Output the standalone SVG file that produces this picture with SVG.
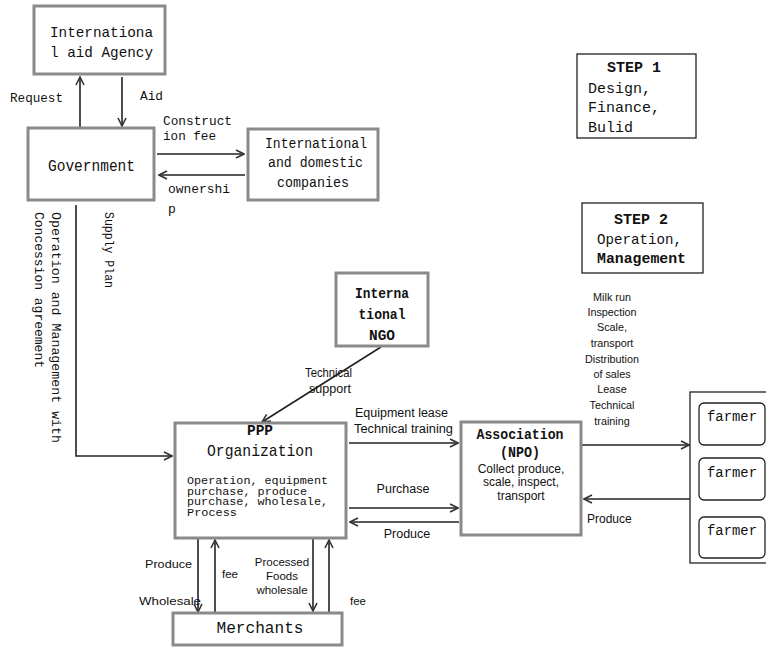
<svg xmlns="http://www.w3.org/2000/svg" width="766" height="649" viewBox="0 0 766 649">
<style>
.box{fill:#fff;stroke:#8a8a8a;stroke-width:3}
.thin{fill:#fff;stroke:#222;stroke-width:1.3}
.m{font-family:"Liberation Mono","DejaVu Sans Mono",monospace;fill:#111}
.s{font-family:"Liberation Sans",Arial,sans-serif;fill:#111}
.c{stroke:#222;stroke-width:1.6;fill:none}
.mid{text-anchor:middle}
</style>
<defs>
<marker id="ah" viewBox="0 0 10 10" refX="9" refY="5" markerWidth="10" markerHeight="10" markerUnits="userSpaceOnUse" orient="auto">
<path d="M1,1 L9,5 L1,9" fill="none" stroke="#333" stroke-width="1.6"/>
</marker>
</defs>
<rect width="766" height="649" fill="#fff"/>

<g id="connectors">
<line class="c" x1="80" y1="127" x2="80" y2="77" marker-end="url(#ah)"/>
<line class="c" x1="122" y1="77" x2="122" y2="126" marker-end="url(#ah)"/>
<line class="c" x1="157" y1="154" x2="244" y2="154" marker-end="url(#ah)"/>
<line class="c" x1="245" y1="175" x2="159" y2="175" marker-end="url(#ah)"/>
<polyline class="c" points="76,205 76,456 172,456" marker-end="url(#ah)"/>
<line class="c" x1="381" y1="347" x2="262" y2="422" marker-end="url(#ah)"/>
<line class="c" x1="349" y1="443" x2="458" y2="443" marker-end="url(#ah)"/>
<line class="c" x1="349" y1="508" x2="458" y2="508" marker-end="url(#ah)"/>
<line class="c" x1="459" y1="522" x2="350" y2="522" marker-end="url(#ah)"/>
<line class="c" x1="582" y1="445" x2="689" y2="445" marker-end="url(#ah)"/>
<line class="c" x1="690" y1="499" x2="584" y2="499" marker-end="url(#ah)"/>
<line class="c" x1="198" y1="539" x2="198" y2="612" marker-end="url(#ah)"/>
<line class="c" x1="215" y1="613" x2="215" y2="540" marker-end="url(#ah)"/>
<line class="c" x1="313" y1="539" x2="313" y2="611" marker-end="url(#ah)"/>
<line class="c" x1="329" y1="613" x2="329" y2="540" marker-end="url(#ah)"/>

<text class="m" x="10" y="102" font-size="13" textLength="53" lengthAdjust="spacingAndGlyphs">Request</text>
<text class="m" x="140" y="100" font-size="13" textLength="23" lengthAdjust="spacingAndGlyphs">Aid</text>
<text class="m" x="163" y="125" font-size="13" textLength="69" lengthAdjust="spacingAndGlyphs">Construct</text>
<text class="m" x="163" y="140" font-size="13" textLength="53" lengthAdjust="spacingAndGlyphs">ion fee</text>
<text class="m" x="168" y="193" font-size="13" textLength="62" lengthAdjust="spacingAndGlyphs">ownershi</text>
<text class="m" x="168" y="213" font-size="13">p</text>
<text class="m" font-size="13" transform="translate(52,212) rotate(90)" textLength="231" lengthAdjust="spacingAndGlyphs">Operation and Management with</text>
<text class="m" font-size="13" transform="translate(35,212) rotate(90)" textLength="156" lengthAdjust="spacingAndGlyphs">Concession agreement</text>
<text class="m" font-size="13" transform="translate(105,212) rotate(90)" textLength="76" lengthAdjust="spacingAndGlyphs">Supply Plan</text>
<text class="s" x="305" y="377" font-size="12.5" textLength="47" lengthAdjust="spacingAndGlyphs">Technical</text>
<text class="s" x="309" y="393" font-size="12.5" textLength="42" lengthAdjust="spacingAndGlyphs">support</text>
<text class="s" x="355" y="417" font-size="12" textLength="93" lengthAdjust="spacingAndGlyphs">Equipment lease</text>
<text class="s" x="354" y="433" font-size="12" textLength="99" lengthAdjust="spacingAndGlyphs">Technical training</text>
<text class="s mid" x="403" y="493" font-size="12.5">Purchase</text>
<text class="s mid" x="407" y="538" font-size="12.5">Produce</text>
<g class="s mid" font-size="10.8">
<text x="612" y="301">Milk run</text>
<text x="612" y="316">Inspection</text>
<text x="612" y="331">Scale,</text>
<text x="612" y="347">transport</text>
<text x="612" y="363">Distribution</text>
<text x="612" y="378">of sales</text>
<text x="612" y="393">Lease</text>
<text x="612" y="409">Technical</text>
<text x="612" y="425">training</text>
</g>
<text class="s" x="587" y="523" font-size="12">Produce</text>
<text class="s" x="145" y="568" font-size="11.5" textLength="47" lengthAdjust="spacingAndGlyphs">Produce</text>
<text class="s" x="139" y="605" font-size="11.5" textLength="62" lengthAdjust="spacingAndGlyphs">Wholesale</text>
<text class="s" x="222" y="578" font-size="11.5">fee</text>
<text class="s mid" x="282" y="566" font-size="11.5">Processed</text>
<text class="s mid" x="282" y="580" font-size="11.5">Foods</text>
<text class="s mid" x="282" y="594" font-size="11.5">wholesale</text>
<text class="s" x="350" y="605" font-size="11.5">fee</text>
</g>

<g id="aid-agency">
<rect class="box" x="34" y="6" width="131" height="68"/>
<text class="m" x="50" y="37" font-size="15" textLength="103" lengthAdjust="spacingAndGlyphs">Internationa</text>
<text class="m" x="50" y="57" font-size="15" textLength="103" lengthAdjust="spacingAndGlyphs">l aid Agency</text>
</g>

<g id="government">
<rect class="box" x="28" y="128" width="126" height="72"/>
<text class="m" x="48" y="171" font-size="16" textLength="87" lengthAdjust="spacingAndGlyphs">Government</text>
</g>

<g id="companies">
<rect class="box" x="248" y="129" width="130" height="71"/>
<text class="m" x="265" y="148" font-size="14" textLength="102" lengthAdjust="spacingAndGlyphs">International</text>
<text class="m" x="268" y="167" font-size="14" textLength="95" lengthAdjust="spacingAndGlyphs">and domestic</text>
<text class="m" x="277" y="187" font-size="14" textLength="72" lengthAdjust="spacingAndGlyphs">companies</text>
</g>

<g id="step1">
<rect class="thin" x="577" y="54" width="119" height="84"/>
<text class="m mid" x="634" y="72" font-size="15" font-weight="bold">STEP 1</text>
<text class="m" x="588" y="93" font-size="15">Design,</text>
<text class="m" x="588" y="112" font-size="15">Finance,</text>
<text class="m" x="588" y="132" font-size="15">Bulid</text>
</g>

<g id="step2">
<rect class="thin" x="582" y="203" width="121" height="70"/>
<text class="m mid" x="641" y="224" font-size="15" font-weight="bold">STEP 2</text>
<text class="m" x="597" y="244" font-size="15" textLength="85" lengthAdjust="spacingAndGlyphs">Operation,</text>
<text class="m" x="597" y="263" font-size="15" font-weight="bold" textLength="89" lengthAdjust="spacingAndGlyphs">Management</text>
</g>

<g id="ngo">
<rect class="box" x="336" y="273" width="92" height="73"/>
<text class="m mid" x="382" y="298" font-size="15" font-weight="bold" textLength="54" lengthAdjust="spacingAndGlyphs">Interna</text>
<text class="m mid" x="382" y="319" font-size="15" font-weight="bold" textLength="47" lengthAdjust="spacingAndGlyphs">tional</text>
<text class="m mid" x="382" y="340" font-size="15" font-weight="bold" textLength="26" lengthAdjust="spacingAndGlyphs">NGO</text>
</g>

<g id="ppp">
<rect class="box" x="175" y="423" width="171" height="115"/>
<text class="m mid" x="260" y="435" font-size="14" font-weight="bold" textLength="26" lengthAdjust="spacingAndGlyphs">PPP</text>
<text class="m" x="207" y="456" font-size="17" textLength="106" lengthAdjust="spacingAndGlyphs">Organization</text>
<text class="m" x="187" y="484" font-size="11" textLength="141" lengthAdjust="spacingAndGlyphs">Operation, equipment</text>
<text class="m" x="187" y="494.5" font-size="11" textLength="120" lengthAdjust="spacingAndGlyphs">purchase, produce</text>
<text class="m" x="187" y="505" font-size="11" textLength="141" lengthAdjust="spacingAndGlyphs">purchase, wholesale,</text>
<text class="m" x="187" y="516" font-size="11" textLength="50" lengthAdjust="spacingAndGlyphs">Process</text>
</g>

<g id="association">
<rect class="box" x="461" y="422" width="120" height="113"/>
<text class="m mid" x="520" y="439" font-size="15" font-weight="bold" textLength="87" lengthAdjust="spacingAndGlyphs">Association</text>
<text class="m mid" x="520" y="457" font-size="15" font-weight="bold" textLength="40" lengthAdjust="spacingAndGlyphs">(NPO)</text>
<text class="s mid" x="521" y="473" font-size="12">Collect produce,</text>
<text class="s mid" x="521" y="486" font-size="12">scale, inspect,</text>
<text class="s mid" x="521" y="500" font-size="12">transport</text>
</g>

<g id="farmers">
<rect x="690" y="392" width="90" height="171" fill="#fff" stroke="#222" stroke-width="1.3"/>
<rect class="thin" x="699" y="403" width="66" height="42" rx="5"/>
<text class="m" x="707" y="421" font-size="14" textLength="50" lengthAdjust="spacingAndGlyphs">farmer</text>
<rect class="thin" x="699" y="458" width="66" height="42" rx="5"/>
<text class="m" x="707" y="477" font-size="14" textLength="50" lengthAdjust="spacingAndGlyphs">farmer</text>
<rect class="thin" x="699" y="517" width="66" height="41" rx="5"/>
<text class="m" x="707" y="535" font-size="14" textLength="50" lengthAdjust="spacingAndGlyphs">farmer</text>
</g>

<g id="merchants">
<rect class="box" x="173" y="613" width="169" height="32"/>
<text class="m mid" x="260" y="633" font-size="16" textLength="87" lengthAdjust="spacingAndGlyphs">Merchants</text>
</g>
</svg>
